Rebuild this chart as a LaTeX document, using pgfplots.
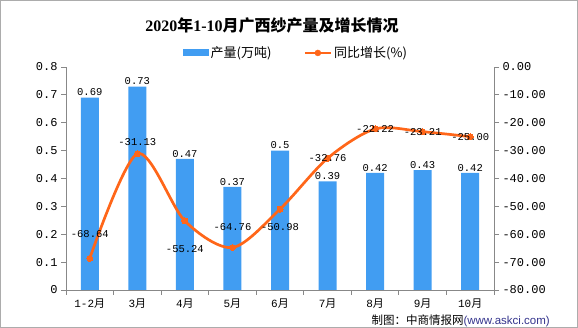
\documentclass[border=0pt]{standalone}
\usepackage{pgfplots}
\pgfplotsset{compat=1.18}
\usepackage{pgfplotstable}
\usepackage{fontspec}
\setmainfont{Liberation Mono}
\newfontfamily\cjk{Noto Sans CJK SC}
\newfontfamily\serif{Liberation Serif}
\definecolor{barblue}{RGB}{65,157,242}
\definecolor{lineorange}{RGB}{255,102,25}
\definecolor{axisgray}{RGB}{136,136,136}
\definecolor{footblue}{RGB}{51,51,140}

\pgfplotstableread{
x y lab
0 0.69 0.69
1 0.73 0.73
2 0.47 0.47
3 0.37 0.37
4 0.50 0.5
5 0.39 0.39
6 0.42 0.42
7 0.43 0.43
8 0.42 0.42
}\prodtable

\pgfplotstableread{
x y lab dy
0 -68.64 -68.64 24
1 -31.13 -31.13 12
2 -55.24 -55.24 -28
3 -64.76 -64.76 20
4 -50.98 -50.98 -18
5 -32.76 -32.76 0
6 -22.22 -22.22 0
7 -23.21 -23.21 0
8 -25.00 -25.00 0
}\growtable

\begin{document}
\begin{tikzpicture}
\path[use as bounding box] (0,0) rectangle (578pt,328pt);
\begin{axis}[
  at={(66pt,38pt)}, anchor=south west, scale only axis,
  width=428pt, height=223pt,
  xmin=-0.5, xmax=8.5, ymin=0, ymax=0.8,
  axis x line*=bottom, axis y line*=left,
  axis line style={color=axisgray, line width=0.8pt, -},
  xtick={0,1,2,3,4,5,6,7,8},
  xticklabels={{1-2{\cjk 月}},{3{\cjk 月}},{4{\cjk 月}},{5{\cjk 月}},{6{\cjk 月}},{7{\cjk 月}},{8{\cjk 月}},{9{\cjk 月}},{10{\cjk 月}}},
  major x tick style={draw=none},
  minor xtick={-0.5,0.5,1.5,2.5,3.5,4.5,5.5,6.5,7.5,8.5},
  minor tick length=5pt, major tick length=5pt,
  tick align=outside,
  tick style={color=axisgray, line width=0.8pt},
  ytick={0,0.1,0.2,0.3,0.4,0.5,0.6,0.7,0.8},
  /pgf/number format/assume math mode=true,
  yticklabel style={/pgf/number format/fixed, /pgf/number format/precision=1, font=\fontsize{12}{12}\selectfont},
  xticklabel style={font=\fontsize{11}{11}\selectfont, yshift=-3pt, inner sep=1pt},
  legend style={at={(0.537,1.063)}, anchor=center, draw=none, fill=none,
    legend columns=2, font=\fontsize{13}{13}\selectfont\cjk,
    /tikz/every even column/.append style={column sep=30pt}},
]
\addplot[ybar, bar width=18pt, fill=barblue, draw=none,
  nodes near coords, point meta=explicit symbolic,
  every node near coord/.append style={font=\fontsize{10.5}{10.5}\selectfont, inner sep=1.5pt, anchor=south, text=black},
  legend image code/.code={\fill[barblue] (0pt,-3.5pt) rectangle (26pt,3.5pt);}]
  table[x=x,y=y,meta=lab]{\prodtable};
\addlegendentry{产量(万吨)}
\addlegendimage{legend image code/.code={\draw[lineorange, line width=2.7pt] (0pt,0pt)--(26pt,0pt); \fill[lineorange] (13pt,0pt) circle (3pt);}}
\addlegendentry{同比增长(\%)}
\end{axis}
\begin{axis}[
  at={(66pt,38pt)}, anchor=south west, scale only axis,
  width=428pt, height=223pt,
  xmin=-0.5, xmax=8.5, ymin=-80, ymax=0,
  axis y line*=right, axis x line=none,
  axis line style={color=axisgray, line width=0.8pt, -},
  tick align=outside, major tick length=5pt,
  tick style={color=axisgray, line width=0.8pt},
  ytick={-80,-70,-60,-50,-40,-30,-20,-10,0},
  /pgf/number format/assume math mode=true,
  yticklabel style={/pgf/number format/fixed, /pgf/number format/fixed zerofill, /pgf/number format/precision=2, font=\fontsize{12}{12}\selectfont},
]
\addplot[smooth, color=lineorange, line width=2.7pt, mark=*, mark size=3pt,
  mark options={fill=lineorange, draw=lineorange, line width=0pt}]
  table[x=x,y=y]{\growtable};
\addplot[draw=none, mark=none, nodes near coords, point meta=explicit symbolic,
  visualization depends on={\thisrow{dy} \as \dy},
  every node near coord/.append style={anchor=center, yshift=\dy pt, font=\fontsize{10.5}{10.5}\selectfont, text=black}]
  table[x=x,y=y,meta=lab]{\growtable};
\end{axis}
\node[font=\fontsize{16}{16}\selectfont\bfseries] at (272pt,302pt) {{\serif 2020}{\cjk 年}{\serif 1-10}{\cjk 月广西纱产量及增长情况}};
\node[anchor=east, font=\fontsize{11.5}{11.5}\selectfont, inner sep=1pt] at (551pt,7pt) {{\cjk 制图：中商情报网}{\color{footblue}\fontspec{Liberation Sans}(www.askci.com)}};
\draw[axisgray!70, line width=1pt] (0.5pt,0.5pt) rectangle (577.5pt,327.5pt);
\end{tikzpicture}
\end{document}
